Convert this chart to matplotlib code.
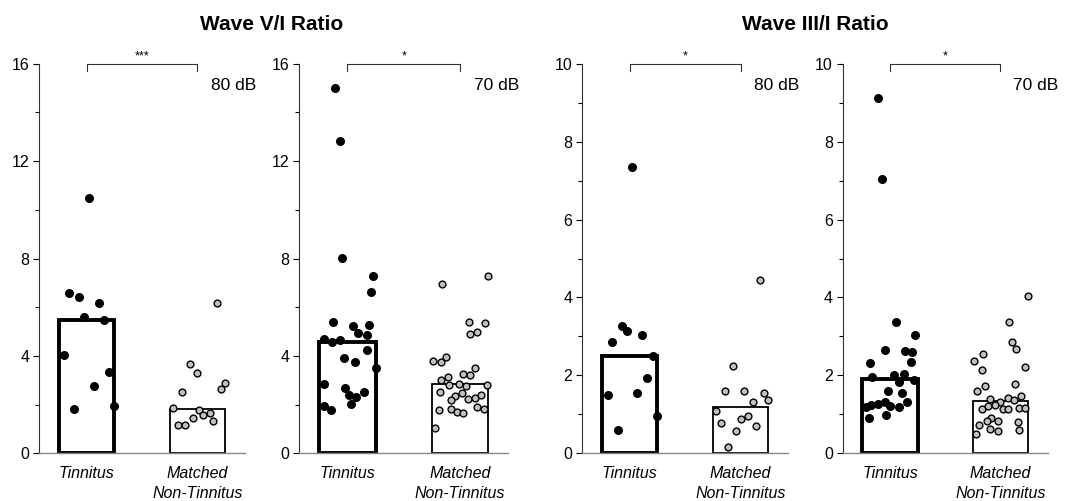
import numpy as np
import matplotlib
matplotlib.use("Agg")
import matplotlib.pyplot as plt
import matplotlib.transforms as mtransforms

plt.rcParams['font.family'] = ['Liberation Sans', 'DejaVu Sans']

categories = ["Tinnitus", "Matched\nNon-Tinnitus"]
titles = ["Wave V/I Ratio", "Wave III/I Ratio"]
levels = ["80 dB", "70 dB", "80 dB", "70 dB"]
stars = ["***", "*", "*", "*"]

# bar heights (tinnitus, matched) per panel
bar_heights = [
    [5.46, 1.84],
    [4.57, 2.84],
    [2.51, 1.20],
    [1.90, 1.35],
]

# ---- Wave V/I, 80 dB
v80_tin = [10.48, 6.58, 6.42, 6.17, 5.58, 5.46, 4.04, 3.34, 2.78, 1.84, 1.95]
v80_tin_jit = [0.02, -0.16, -0.07, 0.11, -0.02, 0.16, -0.20, 0.20, 0.07, -0.11, 0.25]
v80_mat = [6.17, 3.65, 3.29, 2.91, 2.63, 2.51, 1.88, 1.80, 1.58, 1.64, 1.46, 1.35, 1.17, 1.17]
v80_mat_jit = [0.18, -0.07, 0.0, 0.25, 0.21, -0.14, -0.22, 0.01, 0.05, 0.11, -0.04, 0.14, -0.18, -0.11]

# ---- Wave V/I, 70 dB
v70_tin = [15.02, 12.81, 8.03, 7.29, 6.63, 5.38, 5.23, 5.27, 4.93, 4.87, 4.68, 4.56, 4.66,
           4.25, 3.92, 3.75, 3.51, 2.83, 2.69, 2.38, 2.51, 2.31, 2.01, 1.95, 1.77]
v70_tin_jit = [-0.11, -0.07, -0.05, 0.23, 0.21, -0.13, 0.05, 0.19, 0.09, 0.17, -0.21, -0.14, -0.07,
               0.17, -0.03, 0.07, 0.25, -0.21, -0.02, 0.01, 0.15, 0.08, 0.03, -0.21, -0.15]
v70_mat = [7.29, 6.95, 5.41, 5.35, 5.00, 4.89, 3.81, 3.75, 3.96, 3.49, 3.28, 3.22, 3.14, 3.03,
           2.81, 2.84, 2.76, 2.81, 2.51, 2.46, 2.35, 2.20, 2.25, 2.28, 2.40, 1.77, 1.84, 1.71,
           1.65, 1.90, 1.84, 1.05]
v70_mat_jit = [0.25, -0.16, 0.08, 0.22, 0.15, 0.09, -0.24, -0.17, -0.12, 0.13, 0.03, 0.09, -0.11, -0.17,
               -0.10, -0.01, 0.05, 0.24, -0.18, 0.02, -0.04, -0.08, 0.07, 0.13, 0.19, -0.19, -0.08, -0.03,
               0.03, 0.15, 0.21, -0.22]

# ---- Wave III/I, 80 dB
iii80_tin = [7.35, 3.28, 3.14, 2.86, 3.05, 2.50, 1.94, 1.56, 1.50, 0.97, 0.60]
iii80_tin_jit = [0.02, -0.07, -0.02, -0.16, 0.11, 0.21, 0.16, 0.07, -0.20, 0.25, -0.11]
iii80_mat = [4.44, 2.24, 1.61, 1.61, 1.55, 1.31, 1.38, 1.08, 0.95, 0.89, 0.77, 0.71, 0.58, 0.16]
iii80_mat_jit = [0.18, -0.07, -0.14, 0.03, 0.21, 0.11, 0.25, -0.22, 0.07, 0.0, -0.18, 0.14, -0.04, -0.11]

# ---- Wave III/I, 70 dB
iii70_tin = [9.13, 7.03, 3.36, 3.03, 2.33, 2.65, 2.63, 2.61, 2.35, 1.97, 2.01, 2.05, 1.84,
             1.88, 1.61, 1.56, 1.20, 1.24, 1.26, 1.31, 1.22, 1.18, 1.31, 0.90, 0.99]
iii70_tin_jit = [-0.11, -0.07, 0.05, 0.23, -0.18, -0.05, 0.14, 0.20, 0.19, -0.16, 0.04, 0.13, 0.08,
                 0.22, -0.02, 0.11, -0.22, -0.17, -0.11, -0.05, 0.0, 0.08, 0.15, -0.19, -0.04]
iii70_mat = [4.03, 3.36, 2.85, 2.69, 2.54, 2.37, 2.14, 2.21, 1.73, 1.79, 1.59, 1.39, 1.33, 1.43,
             1.38, 1.47, 1.15, 1.21, 1.25, 1.15, 1.15, 1.17, 1.17, 0.90, 0.83, 0.83, 0.73, 0.81,
             0.63, 0.58, 0.59, 0.49]
iii70_mat_jit = [0.25, 0.08, 0.11, 0.14, -0.16, -0.24, -0.17, 0.22, -0.14, 0.13, -0.21, -0.09, 0.0, 0.07,
                 0.12, 0.19, -0.17, -0.11, -0.05, 0.02, 0.07, 0.17, 0.22, -0.08, -0.12, -0.02, -0.19, 0.16,
                 -0.09, -0.02, 0.17, -0.22]

panels = [
    (v80_tin, v80_tin_jit, v80_mat, v80_mat_jit, 16, 4),
    (v70_tin, v70_tin_jit, v70_mat, v70_mat_jit, 16, 4),
    (iii80_tin, iii80_tin_jit, iii80_mat, iii80_mat_jit, 10, 2),
    (iii70_tin, iii70_tin_jit, iii70_mat, iii70_mat_jit, 10, 2),
]

fig = plt.figure(figsize=(10.68, 5.01), dpi=100)
lefts = [0.0365, 0.280, 0.545, 0.789]
widths = [0.193, 0.196, 0.193, 0.192]
bottom, height = 0.095, 0.778

for i, (tin, tin_j, mat, mat_j, ymax, step) in enumerate(panels):
    ax = fig.add_axes([lefts[i], bottom, widths[i], height])
    h = bar_heights[i]
    ax.bar(0, h[0], width=0.5, facecolor='white', edgecolor='black', linewidth=2.8, zorder=2)
    ax.bar(1, h[1], width=0.5, facecolor='white', edgecolor='black', linewidth=1.3, zorder=2)
    ax.scatter(np.array(tin_j), tin, s=30, color='black', zorder=3, clip_on=False)
    ax.scatter(1 + np.array(mat_j), mat, s=24, facecolor='#c0c0c0', edgecolor='black',
               linewidth=1.0, zorder=3, clip_on=False)

    ax.set_xlim(-0.43, 1.43)
    ax.set_ylim(0, ymax)
    ax.set_yticks(np.arange(0, ymax + 0.1, step))
    ax.set_yticks(np.arange(step / 2, ymax, step), minor=True)
    ax.tick_params(axis='y', which='major', length=4, width=0.8, labelsize=11.5, pad=3)
    ax.tick_params(axis='y', which='minor', length=3, width=0.8)
    ax.set_xticks([0, 1])
    ax.set_xticklabels(categories, fontstyle='italic', fontsize=11.5, linespacing=1.4)
    ax.tick_params(axis='x', length=0, pad=9)
    for s in ['top', 'right']:
        ax.spines[s].set_visible(False)
    ax.spines['left'].set_color('#333333')
    ax.spines['bottom'].set_color('#888888')
    ax.spines['left'].set_linewidth(0.8)
    ax.spines['bottom'].set_linewidth(1.0)

    # significance bracket
    trans = mtransforms.blended_transform_factory(ax.transData, ax.transAxes)
    ax.plot([0, 0, 1, 1], [0.982, 1.0, 1.0, 0.982], color='#333333', lw=0.8,
            transform=trans, clip_on=False)
    ax.text(0.5, 1.004, stars[i], transform=trans, ha='center', va='bottom', fontsize=9)
    ax.text(1.53, 0.945, levels[i], transform=trans, ha='right', va='center', fontsize=12.5)

fig.text(0.254, 0.952, titles[0], ha='center', va='center', fontsize=15, fontweight='bold')
fig.text(0.763, 0.952, titles[1], ha='center', va='center', fontsize=15, fontweight='bold')

fig.savefig("out.png", dpi=100)
